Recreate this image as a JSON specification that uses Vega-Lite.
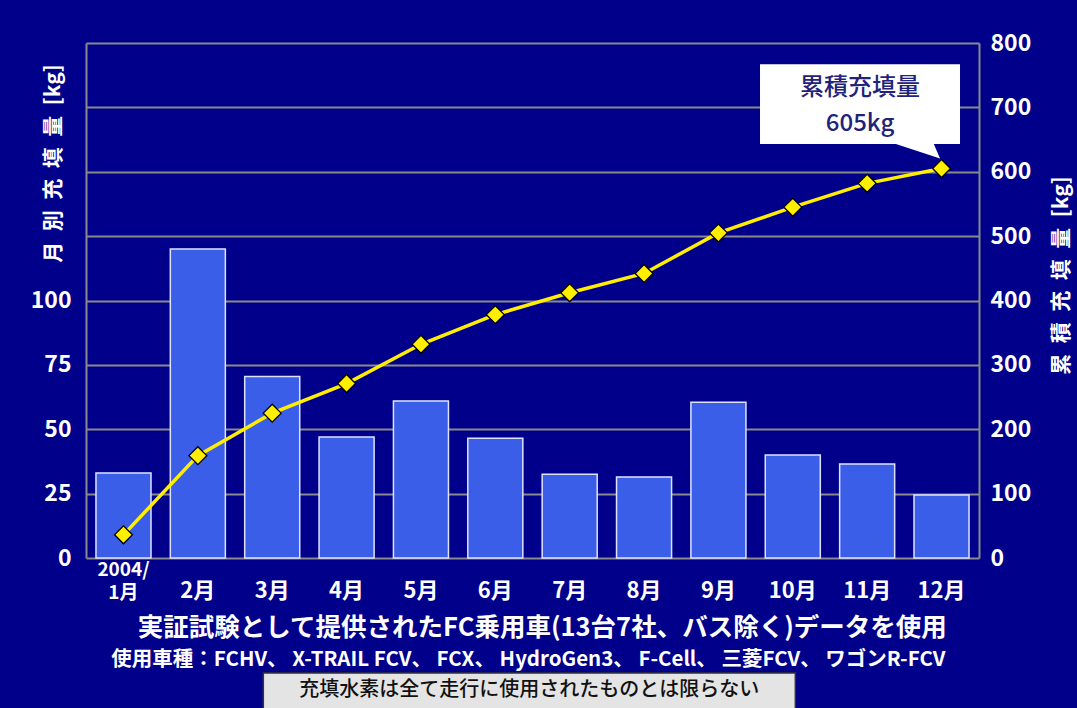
{
  "$schema": "https://vega.github.io/schema/vega-lite/v6.json",
  "width": 893,
  "height": 515,
  "autosize": {"type": "none"},
  "padding": {"left": 86, "top": 43, "right": 98, "bottom": 150},
  "background": "#00008a",
  "config": {
    "view": {"stroke": null},
    "font": "Noto Sans CJK JP"
  },
  "datasets": {
    "fill": [
      {"month": "1月", "monthly": 33, "cumulative": 36},
      {"month": "2月", "monthly": 120, "cumulative": 159},
      {"month": "3月", "monthly": 70.5, "cumulative": 225},
      {"month": "4月", "monthly": 47, "cumulative": 271},
      {"month": "5月", "monthly": 61, "cumulative": 332},
      {"month": "6月", "monthly": 46.5, "cumulative": 378},
      {"month": "7月", "monthly": 32.5, "cumulative": 412},
      {"month": "8月", "monthly": 31.5, "cumulative": 442},
      {"month": "9月", "monthly": 60.5, "cumulative": 505},
      {"month": "10月", "monthly": 40, "cumulative": 545},
      {"month": "11月", "monthly": 36.5, "cumulative": 582},
      {"month": "12月", "monthly": 24.5, "cumulative": 605}
    ],
    "notes": [
      {
        "source": "実証試験として提供されたFC乗用車(13台7社、バス除く)データを使用",
        "vehicles": "使用車種：FCHV、 X-TRAIL FCV、 FCX、 HydroGen3、 F-Cell、 三菱FCV、 ワゴンR-FCV",
        "caveat": "充填水素は全て走行に使用されたものとは限らない",
        "callout": "累積充填量",
        "total": "605kg"
      }
    ]
  },
  "layer": [
    {
      "layer": [
        {
          "data": {"name": "fill"},
          "mark": {"type": "bar", "fill": "#3a5ee8", "stroke": "#dfe2ff", "strokeWidth": 1.5},
          "encoding": {
            "x": {
              "field": "month",
              "type": "ordinal",
              "scale": {
                "domain": ["1月", "2月", "3月", "4月", "5月", "6月", "7月", "8月", "9月", "10月", "11月", "12月"],
                "paddingInner": 0.26,
                "paddingOuter": 0.134
              },
              "axis": {
                "orient": "bottom",
                "title": null,
                "domain": false,
                "ticks": false,
                "tickSize": 0,
                "grid": false,
                "labelAngle": 0,
                "labelColor": "white",
                "labelFontSize": {"condition": {"test": "datum.value == '1月'", "value": 19}, "value": 22},
                "labelFontWeight": "bold",
                "labelBaseline": "bottom",
                "labelLineHeight": 23,
                "labelPadding": {"condition": {"test": "datum.value == '1月'", "value": 21}, "value": 44},
                "labelExpr": "datum.value == '1月' ? ['2004/', '1月'] : datum.value"
              }
            },
            "y": {
              "field": "monthly",
              "type": "quantitative",
              "scale": {"domain": [0, 200], "nice": false, "zero": true},
              "axis": {
                "orient": "left",
                "values": [0, 25, 50, 75, 100],
                "grid": false,
                "domainColor": "#8a8a8a",
                "domainWidth": 2,
                "ticks": false,
                "tickSize": 0,
                "labelColor": "white",
                "labelFontSize": 23,
                "labelFontWeight": "bold",
                "labelPadding": 15,
                "title": "月\u2002別\u2002充\u2002填\u2002量\u2002[kg]",
                "titleColor": "white",
                "titleFontSize": 21,
                "titleFontWeight": "bold",
                "titleAngle": 270,
                "titleAlign": "center",
                "titleBaseline": "middle",
                "titleX": -33,
                "titleY": 120
              }
            }
          }
        },
        {
          "data": {"name": "notes"},
          "mark": {"type": "bar", "fill": "#e4e4e4", "stroke": "#333333", "strokeWidth": 1.5, "width": 532, "xOffset": 34, "clip": false},
          "encoding": {
            "x": {"datum": "6月", "type": "ordinal"},
            "y": {"datum": -44.7, "type": "quantitative"},
            "y2": {"datum": -60}
          }
        },
        {
          "data": {"name": "notes"},
          "mark": {"type": "text", "color": "#111111", "fontSize": 20, "fontWeight": 500, "baseline": "middle", "align": "center", "dx": 34},
          "encoding": {
            "x": {"datum": "6月", "type": "ordinal"},
            "y": {"datum": -51.3, "type": "quantitative"},
            "text": {"field": "caveat"}
          }
        },
        {
          "data": {"name": "notes"},
          "mark": {"type": "text", "color": "white", "fontSize": 25.5, "fontWeight": "bold", "baseline": "middle", "align": "center", "dx": 47},
          "encoding": {
            "x": {"datum": "6月", "type": "ordinal"},
            "y": {"datum": -27.2, "type": "quantitative"},
            "text": {"field": "source"}
          }
        },
        {
          "data": {"name": "notes"},
          "mark": {"type": "text", "color": "white", "fontSize": 20.5, "fontWeight": "bold", "baseline": "middle", "align": "center", "dx": 33},
          "encoding": {
            "x": {"datum": "6月", "type": "ordinal"},
            "y": {"datum": -39.6, "type": "quantitative"},
            "text": {"field": "vehicles"}
          }
        }
      ]
    },
    {
      "layer": [
        {
          "data": {"name": "notes"},
          "mark": {"type": "bar", "fill": "white", "width": 200, "xOffset": -81.5},
          "encoding": {
            "x": {"datum": "12月", "type": "ordinal"},
            "y": {"datum": 767, "type": "quantitative"},
            "y2": {"datum": 643}
          }
        },
        {
          "data": {"name": "fill"},
          "transform": [{"filter": "datum.month == '12月'"}],
          "mark": {
            "type": "point",
            "shape": "M-0.975,-0.48L-0.158,-0.48L-0.025,-0.167Z",
            "size": 14400,
            "filled": true,
            "fill": "white",
            "strokeWidth": 0,
            "opacity": 1
          },
          "encoding": {
            "x": {"field": "month", "type": "ordinal"},
            "y": {"field": "cumulative", "type": "quantitative"}
          }
        },
        {
          "data": {"name": "notes"},
          "mark": {"type": "text", "color": "#22227a", "fontSize": 24, "fontWeight": 500, "baseline": "middle", "align": "center", "dx": -81.5},
          "encoding": {
            "x": {"datum": "12月", "type": "ordinal"},
            "y": {"datum": 730, "type": "quantitative"},
            "text": {"field": "callout"}
          }
        },
        {
          "data": {"name": "notes"},
          "mark": {"type": "text", "color": "#22227a", "fontSize": 24, "fontWeight": 500, "baseline": "middle", "align": "center", "dx": -81.5},
          "encoding": {
            "x": {"datum": "12月", "type": "ordinal"},
            "y": {"datum": 674, "type": "quantitative"},
            "text": {"field": "total"}
          }
        },
        {
          "data": {"name": "fill"},
          "mark": {"type": "line", "color": "#ffee00", "strokeWidth": 3.5},
          "encoding": {
            "x": {"field": "month", "type": "ordinal"},
            "y": {
              "field": "cumulative",
              "type": "quantitative",
              "scale": {"domain": [0, 800], "nice": false, "zero": true},
              "axis": {
                "orient": "right",
                "values": [0, 100, 200, 300, 400, 500, 600, 700, 800],
                "grid": true,
                "gridColor": "#8a8a8a",
                "gridWidth": 2,
                "domainColor": "#8a8a8a",
                "domainWidth": 2,
                "ticks": false,
                "tickSize": 0,
                "labelColor": "white",
                "labelFontSize": 23,
                "labelFontWeight": "bold",
                "labelPadding": 11,
                "title": "累\u2002積\u2002充\u2002填\u2002量\u2002[kg]",
                "titleColor": "white",
                "titleFontSize": 21,
                "titleFontWeight": "bold",
                "titleAngle": 270,
                "titleAlign": "center",
                "titleBaseline": "middle",
                "titleX": 82,
                "titleY": 232
              }
            }
          }
        },
        {
          "data": {"name": "fill"},
          "mark": {"type": "point", "shape": "diamond", "filled": true, "fill": "#ffee00", "stroke": "#000000", "strokeWidth": 1.3, "size": 320, "opacity": 1},
          "encoding": {
            "x": {"field": "month", "type": "ordinal"},
            "y": {"field": "cumulative", "type": "quantitative"}
          }
        }
      ]
    }
  ],
  "resolve": {"scale": {"y": "independent"}, "axis": {"y": "independent"}}
}
